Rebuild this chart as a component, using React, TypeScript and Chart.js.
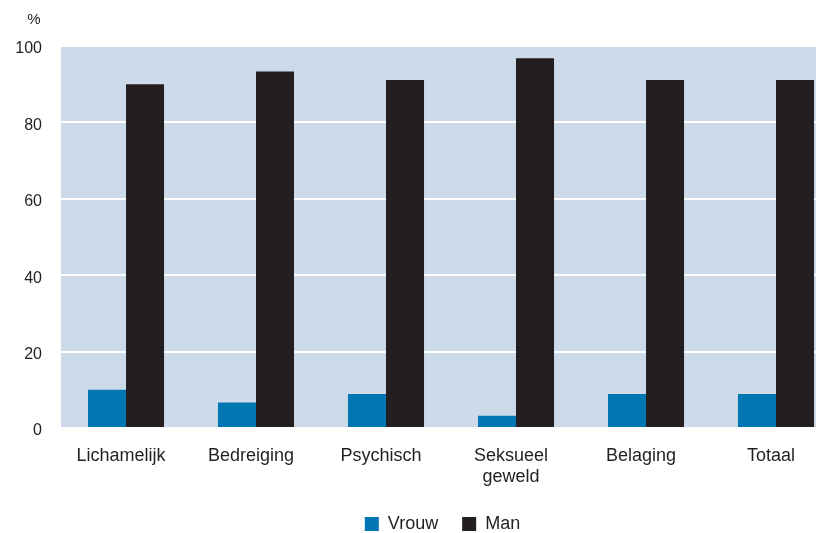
import React, { useEffect, useRef } from "react";
import { Chart, registerables } from "chart.js";

Chart.register(...registerables);

const categories: (string | string[])[] = [
  "Lichamelijk",
  "Bedreiging",
  "Psychisch",
  ["Seksueel", "geweld"],
  "Belaging",
  "Totaal",
];
const vrouwValues = [10.0, 6.7, 8.9, 3.2, 8.9, 8.9];
const manValues = [90.0, 93.3, 91.1, 96.8, 91.1, 91.1];
const yTicks = [0, 20, 40, 60, 80, 100];
const unitLabel = "%";

const FONT = "'Liberation Sans', Arial, sans-serif";
const TEXT = "#231f20";

const bgPlugin = {
  id: "plotBg",
  afterLayout(chart: any) {
    const lg = chart.legend;
    if (lg) {
      lg.left += 22;
      lg.right += 22;
    }
  },
  beforeDraw(chart: any) {
    const { ctx, chartArea } = chart;
    ctx.save();
    ctx.fillStyle = "#cddaea";
    ctx.fillRect(chartArea.left, chartArea.top, chart.width - chartArea.left, chartArea.bottom - chartArea.top);
    ctx.restore();
  },
  afterDraw(chart: any) {
    const { ctx } = chart;
    ctx.save();
    ctx.fillStyle = TEXT;
    ctx.font = `15px ${FONT}`;
    ctx.textAlign = "center";
    ctx.textBaseline = "middle";
    ctx.fillText(unitLabel, 34, 19.5);
    ctx.restore();
  },
};

export default function App() {
  const ref = useRef<HTMLCanvasElement | null>(null);
  useEffect(() => {
    if (!ref.current) return;
    const chart = new Chart(ref.current, {
      type: "bar",
      data: {
        labels: categories,
        datasets: [
          { label: "Vrouw", data: vrouwValues, backgroundColor: "#0077b3", borderWidth: 0 },
          { label: "Man", data: manValues, backgroundColor: "#231f20", borderWidth: 0 },
        ],
      },
      options: {
        animation: false,
        responsive: false,
        devicePixelRatio: 1,
        layout: { padding: { top: 46, left: 0, right: 0, bottom: -10 } },
        datasets: { bar: { categoryPercentage: 0.585, barPercentage: 1 } },
        plugins: {
          legend: {
            position: "bottom",
            labels: {
              boxWidth: 14,
              boxHeight: 14,
              padding: 24,
              color: TEXT,
              font: { family: FONT, size: 18 },
            },
          },
          tooltip: { enabled: false },
        },
        scales: {
          x: {
            grid: { display: false, drawTicks: false },
            border: { display: false },
            ticks: {
              color: TEXT,
              font: { family: FONT, size: 18 },
              padding: 17,
              labelOffset: -5,
              maxRotation: 0,
              autoSkip: false,
            },
            afterFit(scale: any) {
              scale.height = 63;
            },
          },
          y: {
            min: 0,
            max: 100,
            grid: { color: "#ffffff", lineWidth: 2, drawTicks: false },
            border: { display: false },
            afterBuildTicks(scale: any) {
              scale.ticks = yTicks.map((v) => ({ value: v }));
            },
            ticks: { color: TEXT, font: { family: FONT, size: 16 }, padding: 19, labelOffset: 3 },
            afterFit(scale: any) {
              scale.width = 61;
            },
          },
        },
      },
      plugins: [bgPlugin],
    });
    return () => chart.destroy();
  }, []);
  return (
    <div style={{ position: "fixed", left: 0, top: 0, width: 816, height: 533, overflow: "hidden", background: "#fff" }}>
      <canvas ref={ref} width={841} height={533} style={{ display: "block" }} />
    </div>
  );
}
